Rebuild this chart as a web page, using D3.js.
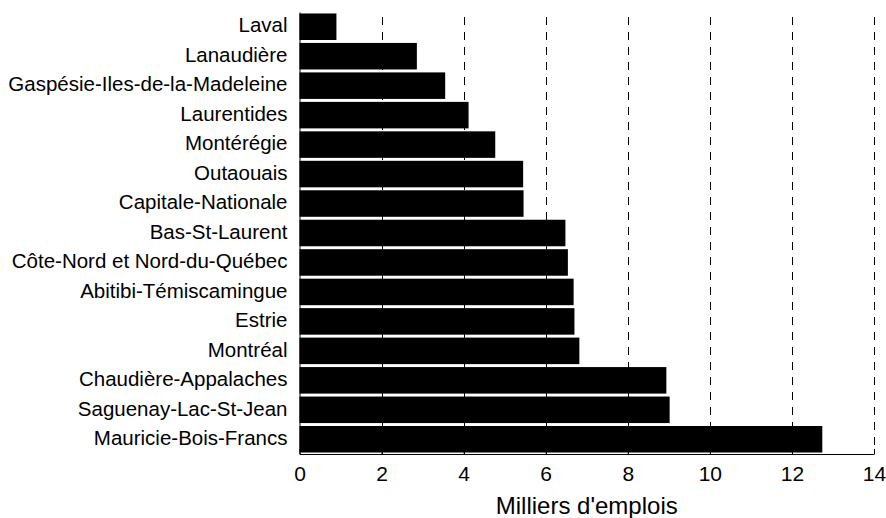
<!DOCTYPE html>
<html>
<head>
<meta charset="utf-8">
<script src="https://cdn.jsdelivr.net/npm/d3@7"></script>
<style>
  body { margin: 0; background: #fff; }
  text { font-family: "Liberation Sans", Arial, sans-serif; fill: #000; }
</style>
</head>
<body>
<div id="vis"></div>
<script>
// regions, top to bottom
var regions = ["Laval", "Lanaudière", "Gaspésie-Iles-de-la-Madeleine", "Laurentides",
  "Montérégie", "Outaouais", "Capitale-Nationale", "Bas-St-Laurent",
  "Côte-Nord et Nord-du-Québec", "Abitibi-Témiscamingue", "Estrie", "Montréal",
  "Chaudière-Appalaches", "Saguenay-Lac-St-Jean", "Mauricie-Bois-Francs"];
// thousands of jobs
var emplois = [0.9, 2.86, 3.55, 4.12, 4.77, 5.45, 5.46, 6.48, 6.54, 6.68, 6.70, 6.82, 8.94, 9.02, 12.74];
var xTicks = [0, 2, 4, 6, 8, 10, 12, 14];
var xTitle = "Milliers d'emplois";

var width = 886, height = 518;
var margin = {left: 299.5, right: 12, top: 12, bottom: 64};

var data = regions.map((r, i) => ({region: r, value: emplois[i]}));

var x = d3.scaleLinear().domain([0, 14]).range([margin.left, width - margin.right]);
var y = d3.scaleBand().domain(regions)
  .range([margin.top, height - margin.bottom])
  .paddingInner(0.1).paddingOuter(0.05);

var svg = d3.select("#vis").append("svg")
  .attr("width", width).attr("height", height);

// dashed gridlines
svg.append("g")
  .selectAll("line")
  .data(xTicks.filter(d => d > 0))
  .join("line")
  .attr("x1", d => Math.round(x(d)) + 0.5)
  .attr("x2", d => Math.round(x(d)) + 0.5)
  .attr("y1", 17)
  .attr("y2", height - margin.bottom)
  .attr("stroke", "#000")
  .attr("stroke-width", 1)
  .attr("stroke-dasharray", "8,7");

// bars
svg.append("g")
  .selectAll("rect")
  .data(data)
  .join("rect")
  .attr("x", x(0))
  .attr("y", d => y(d.region))
  .attr("width", d => x(d.value) - x(0))
  .attr("height", y.bandwidth())
  .attr("fill", "#000");

// x axis
svg.append("g")
  .attr("transform", `translate(0,${height - margin.bottom})`)
  .call(d3.axisBottom(x).tickValues(xTicks).tickSizeInner(-5).tickSizeOuter(0).tickPadding(12))
  .call(g => g.selectAll(".tick text").attr("font-size", "21px").attr("font-family", "Liberation Sans, Arial, sans-serif"))
  .call(g => g.select(".domain").attr("stroke", "#000"));

// y axis
svg.append("g")
  .attr("transform", `translate(${margin.left},0)`)
  .call(d3.axisLeft(y).tickSize(0).tickPadding(12))
  .call(g => g.selectAll(".tick text").attr("font-size", "20.5px").attr("dy", "0.28em").attr("font-family", "Liberation Sans, Arial, sans-serif"))
  .call(g => g.select(".domain").attr("stroke", "#000"));

// axis title
svg.append("text")
  .attr("x", (x(0) + x(14)) / 2)
  .attr("y", 514)
  .attr("text-anchor", "middle")
  .attr("font-size", "24px")
  .text(xTitle);
</script>
</body>
</html>
